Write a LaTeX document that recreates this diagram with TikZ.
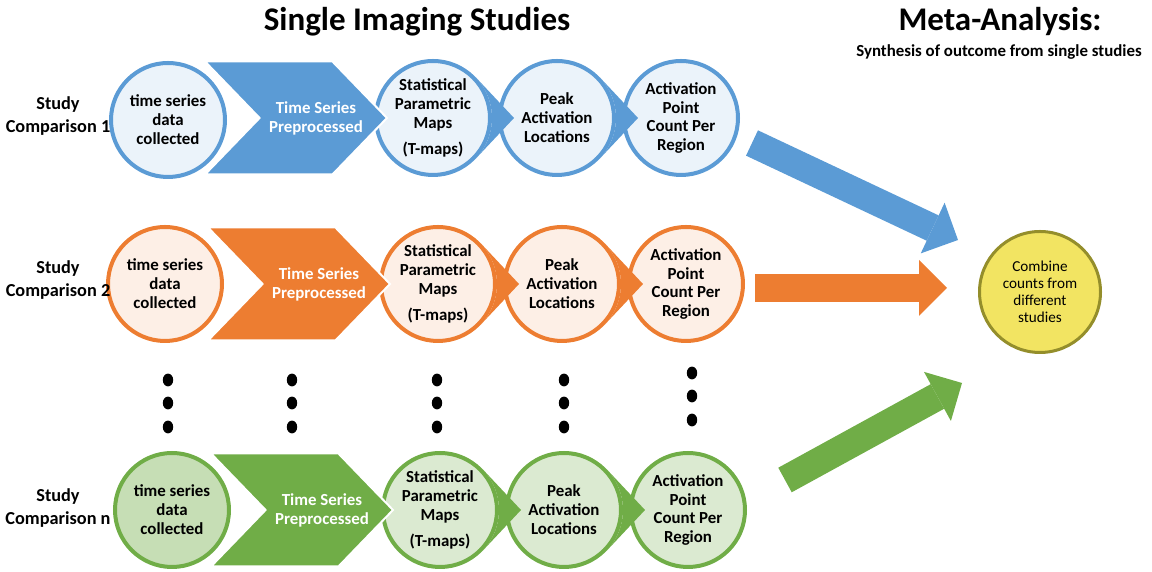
\documentclass[tikz,border=0pt]{standalone}
\usepackage{fontspec}
\setmainfont{Carlito}
\usetikzlibrary{arrows.meta, calc, positioning, shapes.symbols}
\definecolor{studyblue}{HTML}{5B9BD5}
\definecolor{studyorange}{HTML}{ED7D31}
\definecolor{studygreen}{HTML}{70AD47}
\definecolor{combfill}{HTML}{F2E462}
\definecolor{combline}{HTML}{948E2B}

\begin{document}
\begin{tikzpicture}[
        node distance=0.15cm,
        stage/.style={circle, draw=#1, fill=#1!12, line width=0.1cm, minimum size=2.85cm, inner sep=0pt, align=center, font=\bfseries\fontsize{12}{13.5}\selectfont},
        chev/.style={signal, signal from=west, signal to=east, signal pointer angle=92, fill=#1, draw=white, line width=0.05cm, minimum width=4.55cm, minimum height=2.825cm, inner sep=0pt},
        chevtext/.style={text=white, align=center, font=\bfseries\fontsize{12}{13.5}\selectfont},
        rowlabel/.style={align=center, font=\bfseries\fontsize{13}{16.3}\selectfont},
        title/.style={font=\bfseries\fontsize{23.5}{28}\selectfont},
        bigarrow/.style={draw=#1, line width=0.7cm, -{Triangle[length=0.7cm, width=1.4cm, line width=0pt]}}
    ]
        \useasboundingbox (0,0) rectangle (28.8,14.3);

        \node[title] (single) at (10.425,13.75) {Single Imaging Studies};
        \node[title] (meta) at (25.0,13.75) {Meta-Analysis:};
        \node[font=\bfseries\fontsize{12}{14}\selectfont] (synth) at (24.975,13.0) {Synthesis of outcome from single studies};

        % study comparison 1
        \node[stage=studyblue] (spm1) at (10.825,11.35) {Statistical\\Parametric\\Maps\\[5pt](T-maps)};
        \node[stage=studyblue, right=of spm1] (peak1) {Peak\\Activation\\Locations};
        \node[stage=studyblue, right=of peak1] (count1) {Activation\\Point\\Count Per\\Region};
        \node[chev=studyblue] (prep1) at (7.4,11.35) {};
        \node[chevtext] (prep1t) at ([xshift=0.5cm]prep1.center) {Time Series\\Preprocessed};
        \node[stage=studyblue] (data1) at (4.2,11.3) {time series\\data\\collected};
        \node[rowlabel] (study1) at (1.45,11.4) {Study\\Comparison 1};

        % study comparison 2
        \node[stage=studyorange] (spm2) at (10.95,7.2) {Statistical\\Parametric\\Maps\\[5pt](T-maps)};
        \node[stage=studyorange, right=of spm2] (peak2) {Peak\\Activation\\Locations};
        \node[stage=studyorange, right=of peak2] (count2) {Activation\\Point\\Count Per\\Region};
        \node[chev=studyorange] (prep2) at (7.475,7.2) {};
        \node[chevtext] (prep2t) at ([xshift=0.5cm]prep2.center) {Time Series\\Preprocessed};
        \node[stage=studyorange] (data2) at (4.125,7.2) {time series\\data\\collected};
        \node[rowlabel] (study2) at (1.45,7.31) {Study\\Comparison 2};

        % study comparison n
        \node[stage=studygreen, fill=studygreen!25] (spmn) at (11.0,1.55) {Statistical\\Parametric\\Maps\\[5pt](T-maps)};
        \node[stage=studygreen, fill=studygreen!25, right=of spmn] (peakn) {Peak\\Activation\\Locations};
        \node[stage=studygreen, fill=studygreen!25, right=of peakn] (countn) {Activation\\Point\\Count Per\\Region};
        \node[chev=studygreen] (prepn) at (7.55,1.55) {};
        \node[chevtext] (prepnt) at ([xshift=0.5cm]prepn.center) {Time Series\\Preprocessed};
        \node[stage=studygreen, fill=studygreen!40] (datan) at (4.3,1.55) {time series\\data\\collected};
        \node[rowlabel] (studyn) at (1.45,1.59) {Study\\Comparison n};

        % pointers between neighbouring circles
        \foreach \from/\col in {spm1/studyblue, peak1/studyblue, spm2/studyorange, peak2/studyorange, spmn/studygreen, peakn/studygreen}
            \fill[\col] (\from.43) -- ($(\from.center)+(2.025,0)$) -- (\from.-43) arc[start angle=-43, end angle=43, radius=1.475cm] -- cycle;

        % vertical ellipsis dots
        \foreach \x in {4.2, 7.3, 10.925, 14.1}
            \foreach \y in {4.8, 4.225, 3.625}
                \fill (\x,\y) ellipse[x radius=0.13cm, y radius=0.16cm];
        \foreach \y in {4.975, 4.4, 3.8}
            \fill (17.3,\y) ellipse[x radius=0.13cm, y radius=0.16cm];

        \node[circle, draw=combline, fill=combfill, line width=0.075cm, minimum size=3.025cm, align=center, font=\fontsize{10.8}{12.2}\selectfont] (comb) at (26.0,7.0) {Combine\\counts from\\different\\studies};

        \coordinate (tail1) at (18.8,10.725);
        \coordinate (head1) at (23.95,8.3);
        \coordinate (tail2) at (18.875,7.1);
        \coordinate (head2) at (23.675,7.1);
        \coordinate (tailn) at (19.625,2.3);
        \coordinate (headn) at (24.05,4.725);
        \draw[bigarrow=studyblue] (tail1) -- (head1);
        \draw[bigarrow=studyorange] (tail2) -- (head2);
        \draw[bigarrow=studygreen] (tailn) -- (headn);
    \end{tikzpicture}
\end{document}
